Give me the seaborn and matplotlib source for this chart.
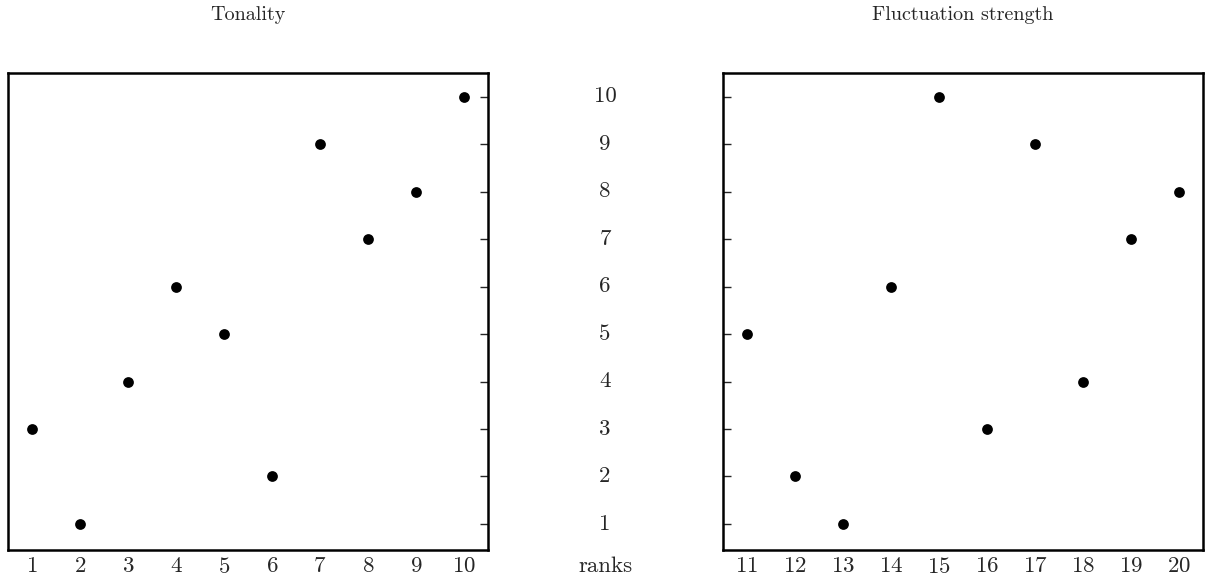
import matplotlib
matplotlib.use("Agg")
import matplotlib.pyplot as plt
import matplotlib.transforms as mtransforms
import seaborn as sns
import pandas as pd

# ranks
tonality_x = [1, 2, 3, 4, 5, 6, 7, 8, 9, 10]
tonality_rank = [3, 1, 4, 6, 5, 2, 9, 7, 8, 10]
fluct_x = [11, 12, 13, 14, 15, 16, 17, 18, 19, 20]
fluct_rank = [5, 2, 1, 6, 10, 3, 9, 4, 7, 8]
rank_labels = list(range(1, 11))

sns.set_style("white")
plt.rcParams["font.family"] = ["cmr10", "DejaVu Serif"]
plt.rcParams["axes.formatter.use_mathtext"] = True

fig = plt.figure(figsize=(12.07, 5.79), dpi=100)
W, H = 1207, 579
ax_l = fig.add_axes([8 / W, 1 - 550 / H, 480 / W, 477 / H])
ax_r = fig.add_axes([723 / W, 1 - 550 / H, 480 / W, 477 / H])

df_l = pd.DataFrame({"x": tonality_x, "rank": tonality_rank})
df_r = pd.DataFrame({"x": fluct_x, "rank": fluct_rank})

for ax, df, side in [(ax_l, df_l, "right"), (ax_r, df_r, "left")]:
    sns.scatterplot(data=df, x="x", y="rank", color="black", s=60,
                    edgecolor="black", linewidth=0, ax=ax)
    ax.set_xlim(df["x"].min() - 0.5, df["x"].max() + 0.5)
    ax.set_ylim(0.45, 10.5)
    ax.set_xticks(df["x"])
    ax.set_yticks(rank_labels)
    ax.set_xlabel("")
    ax.set_ylabel("")
    ax.tick_params(axis="x", direction="in", length=6, width=1, labelsize=16.5, pad=5)
    ax.tick_params(axis="y", direction="in", length=6, width=1,
                   left=(side == "left"), right=(side == "right"),
                   labelleft=False, labelright=False)
    for sp in ax.spines.values():
        sp.set_linewidth(1.8)
        sp.set_color("black")

# shared rank labels in the middle
trans = mtransforms.blended_transform_factory(fig.transFigure, ax_l.transData)
for r in rank_labels:
    fig.text(605 / W, r, str(r), transform=trans, ha="center", va="center", fontsize=16.5)
fig.text(605 / W, 1 - 566 / H, "ranks", ha="center", va="center", fontsize=16.5)

fig.text(248 / W, 1 - 15 / H, "Tonality", ha="center", va="center", fontsize=14.5)
fig.text(963 / W, 1 - 15 / H, "Fluctuation strength", ha="center", va="center", fontsize=14.5)

fig.savefig("out.png", dpi=100)
